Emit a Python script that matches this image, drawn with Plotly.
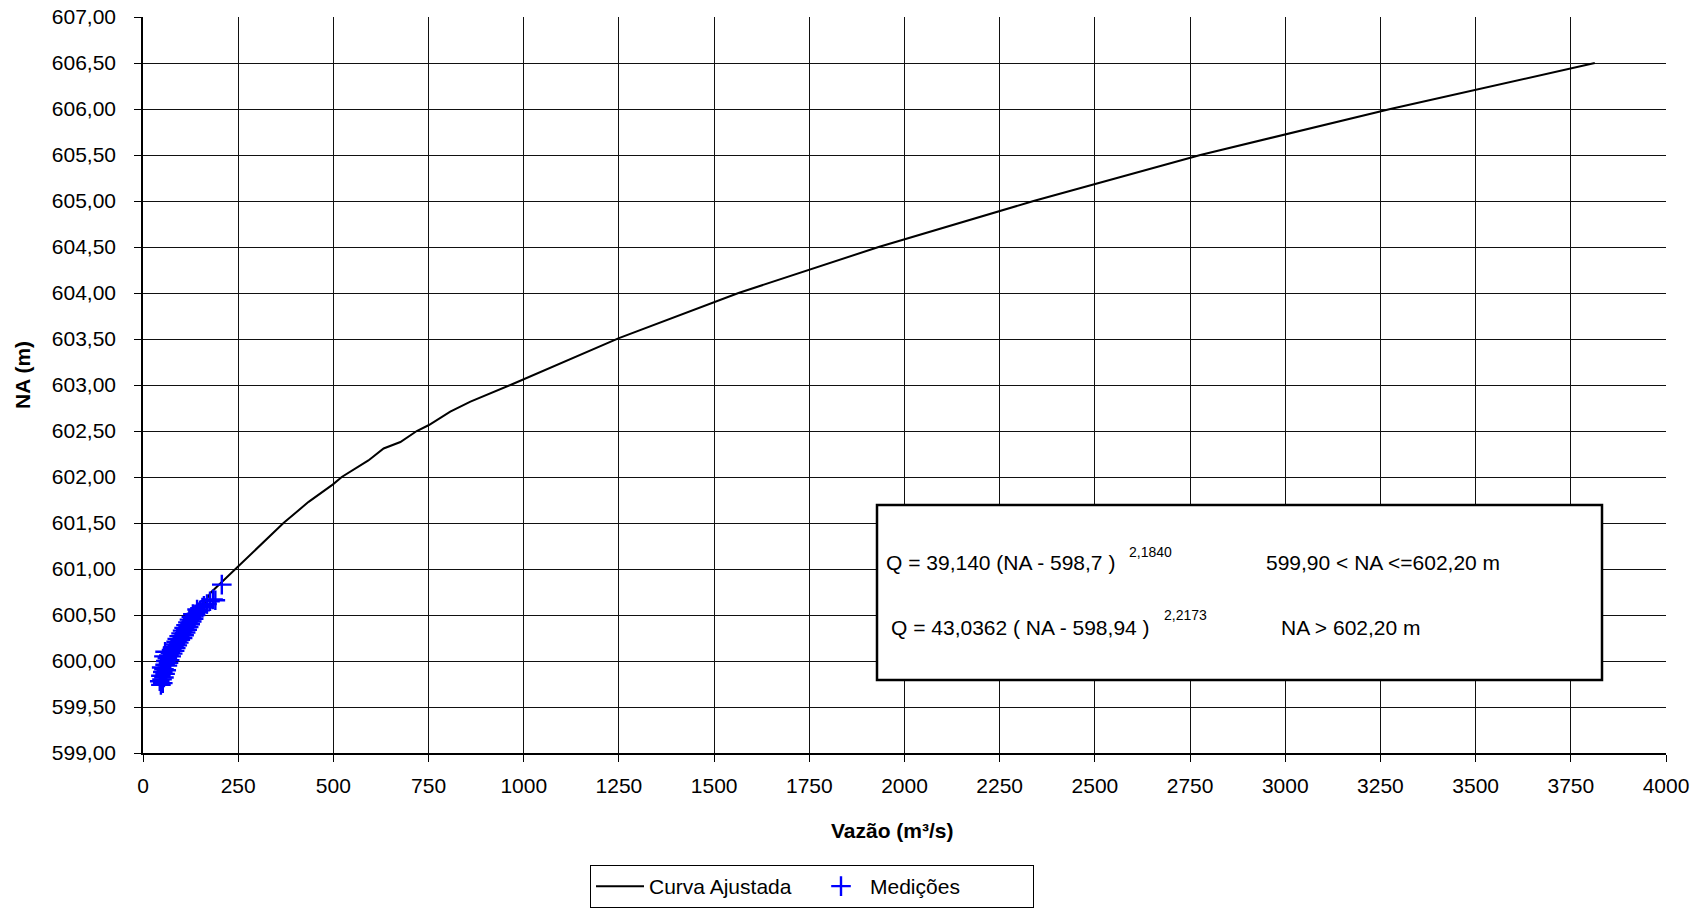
import plotly.graph_objects as go

# Fitted rating curve (discharge m3/s, water level m)
curve_q = [58, 80, 105, 133, 160, 177, 205, 248, 300, 330, 369, 435, 499,
           522, 592, 632, 676, 719, 751, 807, 860, 965, 1250, 1564, 1932,
           2339, 2777, 3276, 3813]
curve_na = [599.90, 600.10, 600.30, 600.48, 600.62, 600.74, 600.85, 601.02,
            601.22, 601.34, 601.50, 601.73, 601.92, 602.00, 602.18, 602.31,
            602.38, 602.50, 602.565, 602.71, 602.82, 603.00, 603.51, 604.00,
            604.50, 605.00, 605.50, 606.00, 606.50]

# Field measurements
meas_q = [47, 52, 44, 50, 55, 47, 58, 52, 61, 55, 49, 64, 58, 67, 60, 70,
          64, 74, 68, 78, 72, 83, 75, 86, 79, 90, 83, 94, 87, 98, 90, 104,
          95, 108, 100, 112, 104, 116, 108, 120, 113, 124, 118, 128, 122, 133,
          127, 138, 131, 145, 150, 142, 156, 160, 168, 176, 184, 190, 207,
          58, 55]
meas_na = [599.74, 599.76, 599.78, 599.80, 599.82, 599.84, 599.86, 599.88,
           599.90, 599.91, 599.93, 599.95, 599.96, 599.98, 600.00, 600.01,
           600.03, 600.05, 600.06, 600.08, 600.09, 600.11, 600.12, 600.14,
           600.15, 600.17, 600.18, 600.20, 600.21, 600.23, 600.24, 600.25,
           600.27, 600.28, 600.30, 600.31, 600.33, 600.34, 600.36, 600.37,
           600.39, 600.40, 600.42, 600.43, 600.45, 600.46, 600.48, 600.50,
           600.51, 600.53, 600.55, 600.56, 600.58, 600.60, 600.62, 600.65,
           600.67, 600.66, 600.83, 600.10, 600.05]

FONT = "Liberation Sans, Arial, sans-serif"
FS = 21

# plot area in pixels
L, R, T, B = 143, 1666, 17, 753


def px(x):
    return (x - L) / (R - L)


def py(y):
    return (B - y) / (B - T)


fig = go.Figure()
fig.add_trace(go.Scatter(
    x=curve_q, y=curve_na, mode="lines", name="Curva Ajustada",
    line=dict(color="black", width=2),
))
fig.add_trace(go.Scatter(
    x=meas_q, y=meas_na, mode="markers", name="Medições",
    marker=dict(symbol="cross-thin", size=14, line=dict(color="#0000ff", width=2.4),
                color="#0000ff"),
))

fig.update_layout(
    width=1700, height=910,
    margin=dict(l=L, r=1700 - R, t=T, b=910 - B, autoexpand=False),
    paper_bgcolor="white", plot_bgcolor="white",
    separators=",.",
    font=dict(family=FONT, size=FS, color="black"),
    showlegend=True,
    legend=dict(
        orientation="h", x=px(590), y=py(865), xanchor="left", yanchor="top",
        bordercolor="black", borderwidth=1, bgcolor="white",
        font=dict(family=FONT, size=FS), entrywidth=158, entrywidthmode="pixels",
        itemwidth=48,
    ),
    xaxis=dict(
        range=[0, 4000], dtick=250, tick0=0,
        showgrid=True, gridcolor="#111", gridwidth=1,
        showline=True, linecolor="black", linewidth=1.5, mirror=False,
        ticks="outside", ticklen=7, tickcolor="black",
        ticklabelstandoff=6, zeroline=False,
        tickfont=dict(family=FONT, size=FS),
    ),
    yaxis=dict(
        range=[599, 607], dtick=0.5, tick0=599, tickformat=".2f",
        showgrid=True, gridcolor="#111", gridwidth=1,
        showline=True, linecolor="black", linewidth=1.5,
        ticks="outside", ticklen=7, tickcolor="black",
        ticklabelstandoff=14, zeroline=False,
        tickfont=dict(family=FONT, size=FS),
    ),
)

# Equation panel
fig.add_shape(type="rect", xref="paper", yref="paper",
              x0=px(877), x1=px(1602), y0=py(680), y1=py(505),
              line=dict(color="black", width=2.5), fillcolor="white", layer="above")

texts = [
    ("Q = 39,140 (NA - 598,7 )", 884, 562, FS),
    ("2,1840", 1127, 552, 14),
    ("599,90 < NA <=602,20 m", 1264, 562, FS),
    ("Q = 43,0362 ( NA - 598,94 )", 889, 627, FS),
    ("2,2173", 1162, 615, 14),
    ("NA > 602,20 m", 1279, 627, FS),
]
for t, x, y, s in texts:
    fig.add_annotation(text=t, xref="paper", yref="paper", x=px(x), y=py(y),
                       xanchor="left", yanchor="middle", showarrow=False,
                       font=dict(family=FONT, size=s, color="black"))

# Axis titles
fig.add_annotation(text="<b>Vazão (m³/s)</b>", xref="paper", yref="paper",
                   x=px(892), y=py(830), xanchor="center", yanchor="middle",
                   showarrow=False, font=dict(family=FONT, size=FS))
fig.add_annotation(text="<b>NA (m)</b>", xref="paper", yref="paper",
                   x=px(22), y=py(375), xanchor="center", yanchor="middle",
                   textangle=-90, showarrow=False, font=dict(family=FONT, size=FS))

fig.write_html("out.html")
